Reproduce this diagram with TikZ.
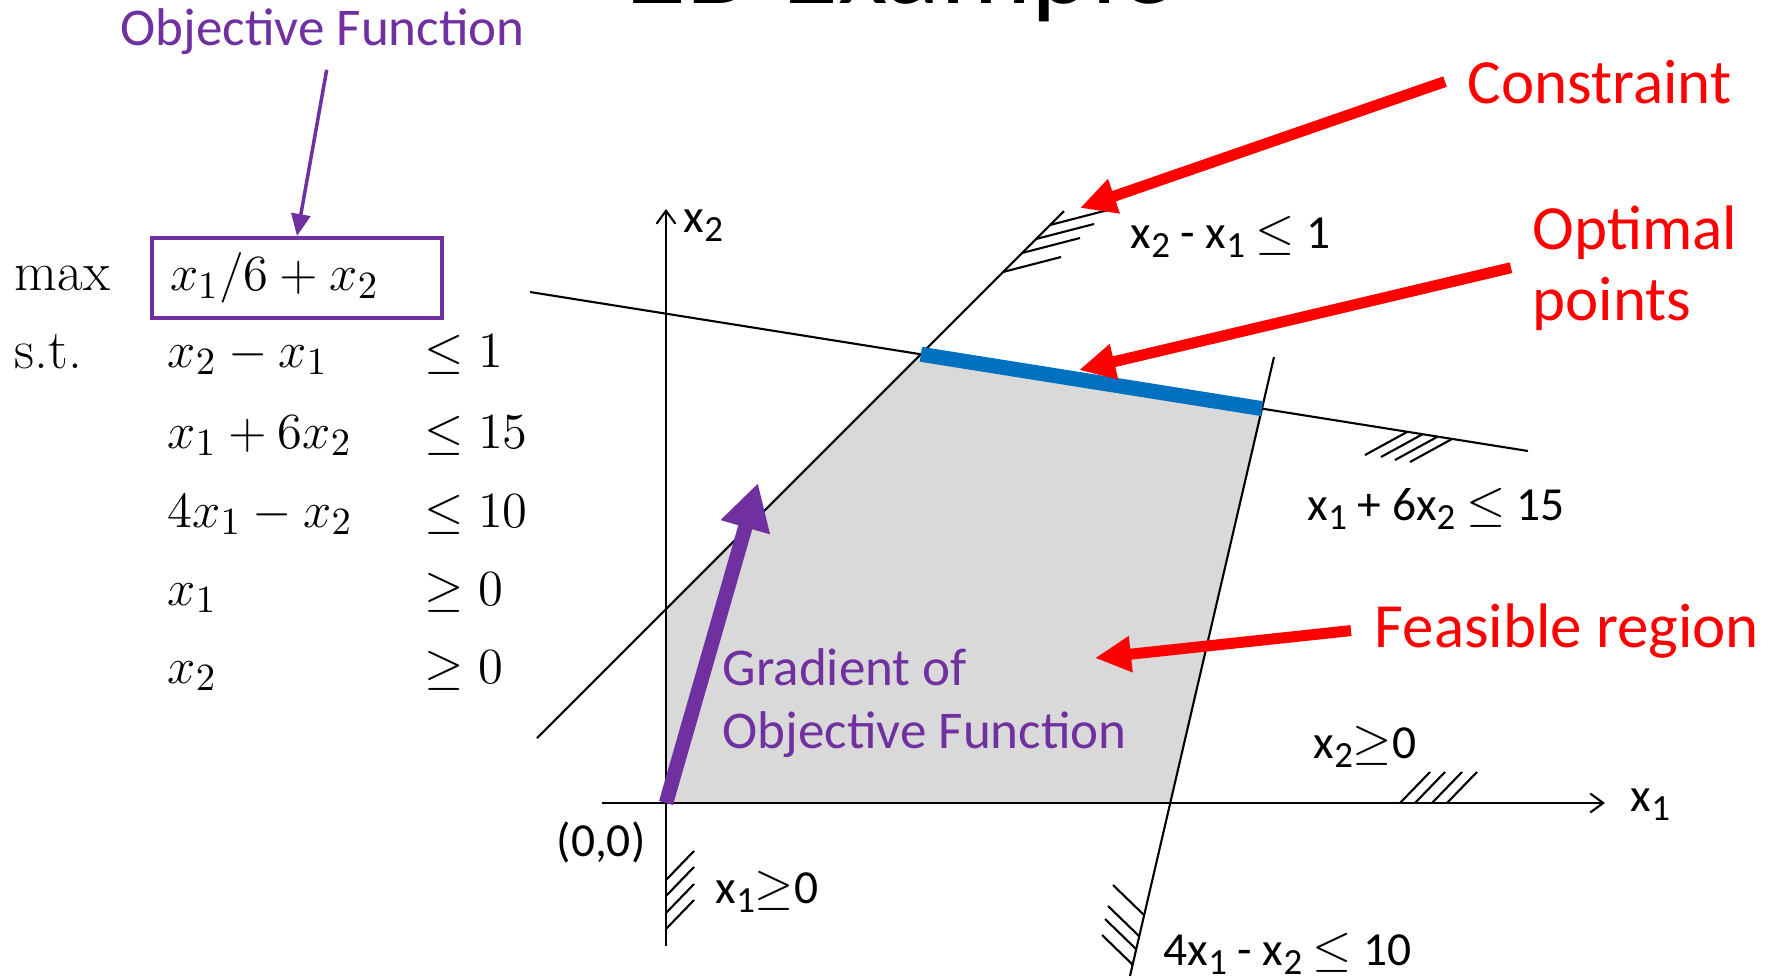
\documentclass[tikz,border=0pt]{standalone}
\usepackage{fontspec}
\usepackage{amsmath,amssymb}
\usepackage{tikz}
\usetikzlibrary{arrows.meta}
\usetikzlibrary{positioning}
\newfontfamily\carl{Carlito}
\definecolor{lppurple}{RGB}{112,48,160}
\definecolor{lpred}{RGB}{255,0,0}
\definecolor{lpblue}{RGB}{0,112,192}
\definecolor{lpgray}{RGB}{217,217,217}
\newcommand{\lowsub}[1]{\raisebox{-0.9mm}{\fontsize{10.5}{10.5}\selectfont #1}}
\tikzset{
    thinline/.style={line width=0.6pt, black},
    % hatching on the infeasible side
    hatch/.style={line width=0.6pt, black},
    axisarrow/.style={
        line width=0.6pt, black,
        -{Straight Barb[length=1.3mm, width=1.9mm]}
    },
    redarrow/.style={
        line width=1.1mm, lpred,
        -{Triangle[length=3.6mm, width=3.4mm]}
    },
    gradarrow/.style={
        line width=1.45mm, lppurple,
        -{Triangle[length=4.6mm, width=4.8mm]}
    },
    objarrow/.style={
        line width=0.35mm, lppurple,
        -{Triangle[length=2.2mm, width=1.9mm]}
    },
    optline/.style={line width=1.5mm, lpblue},
    lbl/.style={font=\carl\fontsize{13.5}{16}\selectfont, inner sep=0pt, anchor=base west},
    redlbl/.style={font=\carl\fontsize{17.9}{20.2}\selectfont, text=lpred, inner sep=0pt, anchor=base west, align=left},
    purplbl/.style={font=\carl\fontsize{15.1}{17.9}\selectfont, text=lppurple, inner sep=0pt, anchor=base west, align=left},
    mathlbl/.style={font=\fontsize{15.8}{19}\selectfont, inner sep=0pt, anchor=base west},
    objbox/.style={
        draw=lppurple, line width=0.4mm, font=\fontsize{15.8}{19}\selectfont,
        text width=25.4mm, inner xsep=1.8mm, inner ysep=0pt,
        minimum height=8mm, align=left, anchor=north west
    }
}

\begin{document}
\begin{tikzpicture}[x=0.1mm, y=-0.1mm]
    \useasboundingbox (0,0) rectangle (1775,980);
    \clip (0,0) rectangle (1775,980);

    \path
     (666,803) coordinate (O)
     (666,946) coordinate (x2bot)
     (666,209) coordinate (x2top)
     (602,803) coordinate (x1left)
     (1605,803) coordinate (x1right)
     (537,738) coordinate (l1a)
     (1064,211) coordinate (l1b)
     (530,292) coordinate (l2a)
     (1528,451) coordinate (l2b)
     (1274,357) coordinate (l3a)
     (1130,976) coordinate (l3b)
     (1080,208) coordinate (ctip)
     (1079,370) coordinate (otip)
     (1095,658) coordinate (ftip)
     (758,483) coordinate (gtip);
    \path
     (intersection of l1a--l1b and x2bot--x2top) coordinate (P)
     (intersection of l1a--l1b and l2a--l2b) coordinate (A)
     (intersection of l2a--l2b and l3a--l3b) coordinate (B)
     (intersection of l3a--l3b and x1left--x1right) coordinate (C);

    % feasible region
    \fill[lpgray] (O) -- (P) -- (A) -- (B) -- (C) -- cycle;

    % axes and constraint lines
    \draw[axisarrow] (x2bot) -- (x2top);
    \draw[axisarrow] (x1left) -- (x1right);
    \draw[thinline] (l1a) -- (l1b);
    \draw[thinline] (l2a) -- (l2b);
    \draw[thinline] (l3a) -- (l3b);
    \draw[optline] (A) -- (B);

    % hatches
    \draw[hatch] (1050,225) -- ++(58,-15) (1036,239) -- ++(58,-15)
                 (1022,253) -- ++(58,-15) (1003,272) -- ++(58,-15);
    \draw[hatch] (1407,432) -- ++(-42,23) (1423,434) -- ++(-42,23)
                 (1437,437) -- ++(-42,23) (1452,439) -- ++(-42,23);
    \draw[hatch] (1400,803) -- ++(30,-31) (1415,803) -- ++(30,-31)
                 (1432,803) -- ++(30,-31) (1447,803) -- ++(30,-31);
    \draw[hatch] (666,880) -- ++(28,-29) (666,896) -- ++(28,-29)
                 (666,913) -- ++(28,-29) (666,929) -- ++(28,-29);
    \draw[hatch] (1144,915) -- ++(-31,-30) (1139,936) -- ++(-31,-30)
                 (1136,949) -- ++(-31,-30) (1133,965) -- ++(-31,-30);

    % title (cut by the top edge)
    \node[font=\carl\fontsize{32.5}{36}\selectfont, inner sep=0pt, anchor=base west] (title) at (628,3) {2D Example};

    % problem on the left
    \node[mathlbl] (maxkw) at (14,290) {max};
    \node[objbox] (obj) at (150,236) {$x_1/6 + x_2$};
    \node[mathlbl] (stkw) at (14,368) {s.t.};
    \node[mathlbl] (c1l) at (167,367) {$x_2 - x_1$};
    \node[mathlbl] (c1r) at (424,367) {$\leq 1$};
    \node[mathlbl] (c2l) at (167,448) {$x_1 + 6x_2$};
    \node[mathlbl] (c2r) at (424,448) {$\leq 15$};
    \node[mathlbl] (c3l) at (167,527) {$4x_1 - x_2$};
    \node[mathlbl] (c3r) at (424,527) {$\leq 10$};
    \node[mathlbl] (c4l) at (167,605) {$x_1$};
    \node[mathlbl] (c4r) at (424,605) {$\geq 0$};
    \node[mathlbl] (c5l) at (167,683) {$x_2$};
    \node[mathlbl] (c5r) at (424,683) {$\geq 0$};

    % labels of the plot
    \node[lbl] (x2lab) at (683,232) {x\lowsub{2}};
    \node[lbl] (x1lab) at (1630,811) {x\lowsub{1}};
    \node[lbl] (l1lab) at (1130,248) {x\lowsub{2} - x\lowsub{1} $\leq$ 1};
    \node[lbl] (l2lab) at (1307,520) {x\lowsub{1} + 6x\lowsub{2} $\leq$ 15};
    \node[lbl] (l3lab) at (1163,965) {4x\lowsub{1} - x\lowsub{2} $\leq$ 10};
    \node[lbl] (x2pos) at (1313,758) {x\lowsub{2}$\geq$0};
    \node[lbl] (x1pos) at (715,903) {x\lowsub{1}$\geq$0};
    \node[lbl] (orig) at (556,856) {(0,0)};

    % annotations
    \node[purplbl] (objlab) at (120,45) {Objective Function};
    \node[purplbl] (gradlab) at (722,748) {Gradient of\\Objective Function};
    \node[redlbl] (cons) at (1467,103) {Constraint};
    \node[redlbl] (opt) at (1532,320) {Optimal\\points};
    \node[redlbl] (feas) at (1374,647) {Feasible region};

    \draw[objarrow] ([shift={(4,15)}]objlab.south) -- (obj.north);
    \draw[gradarrow] (O) -- (gtip);
    \draw[redarrow] ([xshift=-2.2mm]cons.west) -- (ctip);
    \draw[redarrow] ([xshift=-2.1mm]opt.west) -- (otip);
    \draw[redarrow] ([xshift=-2.3mm]feas.west) -- (ftip);
\end{tikzpicture}
\end{document}
